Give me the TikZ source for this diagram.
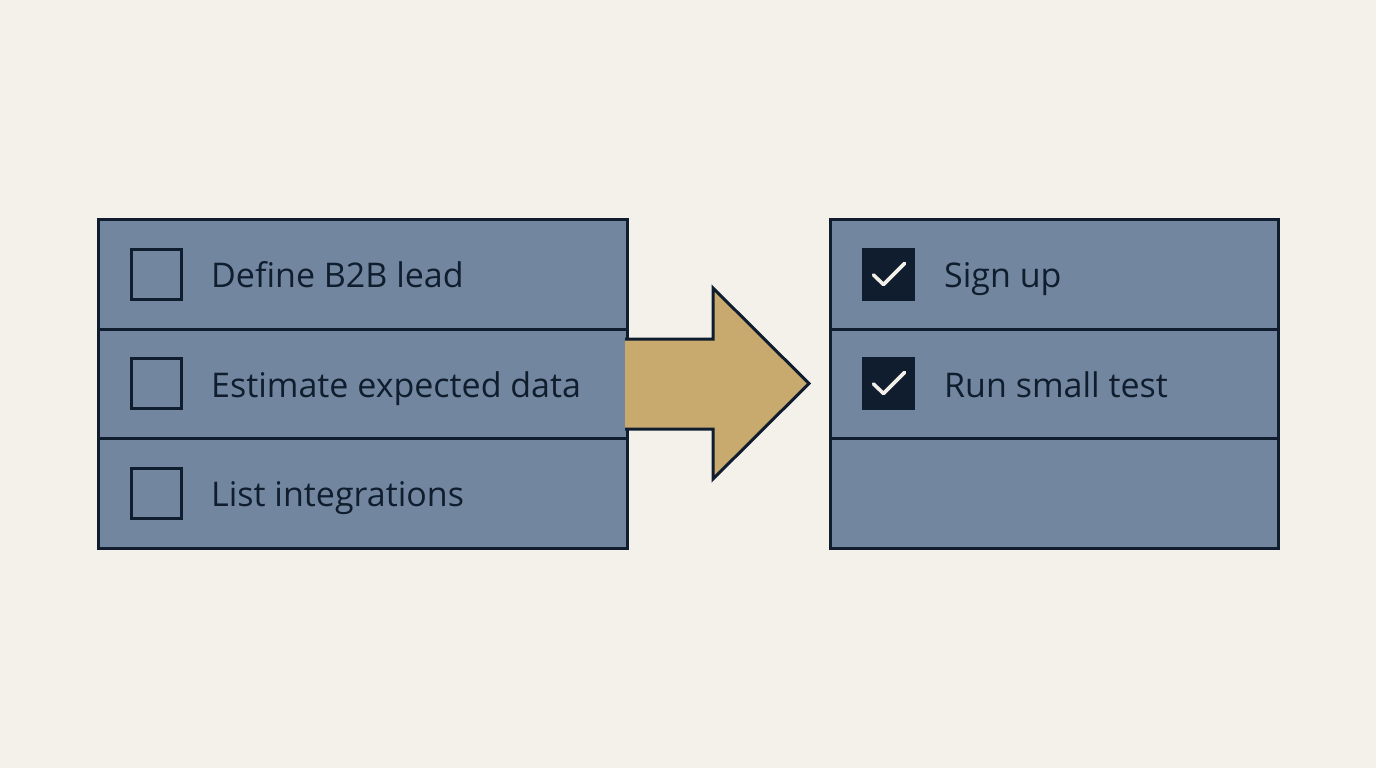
\documentclass[tikz,border=0pt]{standalone}
\usepackage{fontspec}
\setmainfont{Open Sans}
\definecolor{bg}{HTML}{F3F1EA}
\definecolor{panel}{HTML}{72879F}
\definecolor{ink}{HTML}{0F1D2E}
\definecolor{gold}{HTML}{C9AA6E}
\definecolor{tick}{HTML}{F1EFE8}
\tikzset{
  panelbox/.style={fill=panel, draw=ink, line width=3pt},
  rowline/.style={draw=ink, line width=3pt},
  emptybox/.style={draw=ink, line width=3pt, minimum size=50pt, inner sep=0pt},
  fullbox/.style={fill=ink, minimum size=53pt, inner sep=0pt},
  label/.style={anchor=base west, text=ink, font=\fontsize{34}{40}\selectfont, inner sep=0pt},
  checkmark/.style={draw=tick, line width=3.6pt, line cap=round, line join=round}
}
\begin{document}
\begin{tikzpicture}[x=1pt,y=-1pt]
\useasboundingbox[fill=bg] (0,0) rectangle (1376,768);
% left panel
\node[panelbox, minimum width=529pt, minimum height=329pt, inner sep=0pt] (L) at (362.5,383.5) {};
\draw[rowline] (98,329) -- (627,329);
\draw[rowline] (98,438.5) -- (627,438.5);
% right panel
\node[panelbox, minimum width=448pt, minimum height=329pt, inner sep=0pt] (R) at (1054,383.5) {};
\draw[rowline] (830,329) -- (1278,329);
\draw[rowline] (830,438.5) -- (1278,438.5);
% left checkboxes
\node[emptybox] (c1) at (156,274) {};
\node[emptybox] (c2) at (156,383.5) {};
\node[emptybox] (c3) at (156,493) {};
\node[label] (t1) at (211,287.5) {Define B2B lead};
\node[label] (t2) at (211,397) {Estimate expected data};
\node[label] (t3) at (211,506.5) {List integrations};
% right checkboxes
\node[fullbox] (d1) at (888.5,274.5) {};
\node[fullbox] (d2) at (888.5,383.5) {};
\draw[checkmark] ([shift={(-15,0.5)}]d1.center) -- ([shift={(-5,10)}]d1.center) -- ([shift={(16,-11)}]d1.center);
\draw[checkmark] ([shift={(-15,0.5)}]d2.center) -- ([shift={(-5,10)}]d2.center) -- ([shift={(16,-11)}]d2.center);
\node[label] (u1) at (944,287.5) {Sign up};
\node[label] (u2) at (944,397) {Run small test};
% arrow
\coordinate (a0) at (625,339);
\coordinate (a1) at (713,339);
\coordinate (a2) at (713,288);
\coordinate (tip) at (809,383.5);
\coordinate (a4) at (713,479);
\coordinate (a5) at (713,429);
\coordinate (a6) at (625,429);
\fill[gold] (a0) -- (a1) -- (a2) -- (tip) -- (a4) -- (a5) -- (a6) -- cycle;
\draw[ink, line width=3pt, line join=miter] (a0) -- (a1) -- (a2) -- (tip) -- (a4) -- (a5) -- (a6);
\end{tikzpicture}
\end{document}
